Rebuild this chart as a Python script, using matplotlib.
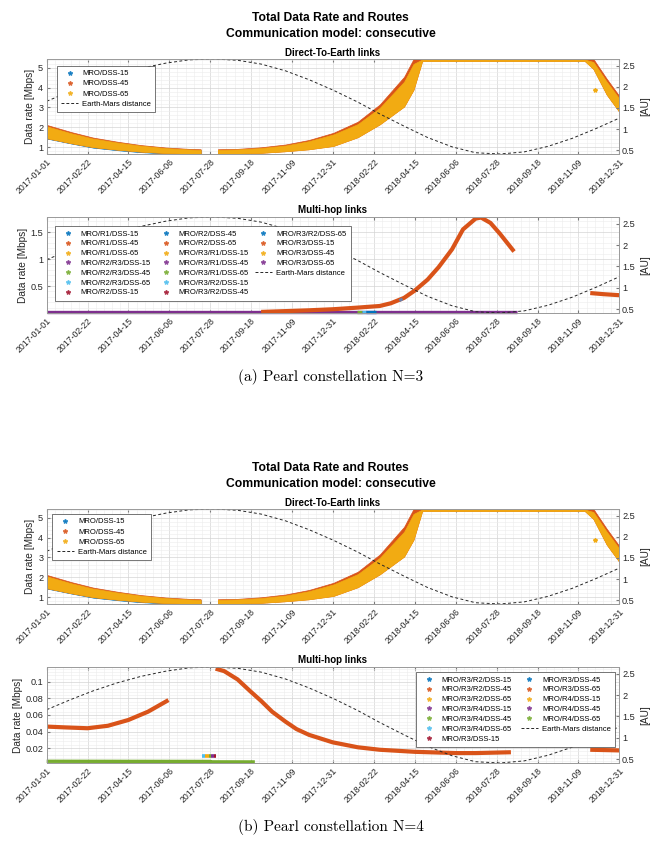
import numpy as np
import pandas as pd
import matplotlib
matplotlib.use('Agg')
import matplotlib.pyplot as plt
import matplotlib.dates as mdates
from matplotlib.lines import Line2D
from matplotlib.ticker import FuncFormatter, MultipleLocator

plt.rcParams.update({
    'font.family': 'Liberation Sans',
    'font.size': 6.3,
    'axes.edgecolor': '#9a9a9a',
    'axes.linewidth': 0.6,
    'xtick.color': '#7a7a7a',
    'ytick.color': '#7a7a7a',
    'xtick.labelcolor': '#262626',
    'ytick.labelcolor': '#262626',
    'xtick.labelsize': 6.3,
    'ytick.labelsize': 6.6,
    'axes.labelcolor': '#262626',
})

# MATLAB default colour order
C_BLUE, C_ORANGE, C_YELLOW = '#0072BD', '#D95319', '#F2AB12'
C_PURPLE, C_GREEN, C_CYAN, C_RED = '#7E2F8E', '#77AC30', '#4DBEEE', '#A2142F'
COLOR_ORDER = [C_BLUE, C_ORANGE, C_YELLOW, C_PURPLE, C_GREEN, C_CYAN, C_RED]

TICK_LABELS = ['2017-01-01', '2017-02-22', '2017-04-15', '2017-06-06', '2017-07-28',
               '2017-09-18', '2017-11-09', '2017-12-31', '2018-02-22', '2018-04-15',
               '2018-06-06', '2018-07-28', '2018-09-18', '2018-11-09', '2018-12-31']

# Earth-Mars distance [AU]
DIST_DATES = ['2017-01-01', '2017-02-01', '2017-03-01', '2017-04-01', '2017-05-01',
              '2017-06-01', '2017-07-01', '2017-08-01', '2017-09-01', '2017-10-01',
              '2017-11-01', '2017-12-01', '2018-01-01', '2018-02-01', '2018-03-01',
              '2018-04-01', '2018-05-01', '2018-06-01', '2018-07-01', '2018-08-01',
              '2018-09-01', '2018-10-01', '2018-11-01', '2018-12-01', '2018-12-31']
DIST_AU = [1.66, 1.90, 2.10, 2.29, 2.44, 2.56, 2.64, 2.66, 2.63, 2.54, 2.38, 2.17, 1.92,
           1.64, 1.36, 1.07, 0.80, 0.58, 0.44, 0.41, 0.46, 0.59, 0.78, 1.01, 1.26]

# Direct-to-Earth rate bands [Mbps], first pass before conjunction
DTE1_DATES = ['2017-01-01', '2017-02-01', '2017-03-01', '2017-04-01', '2017-05-01',
              '2017-06-01', '2017-07-01', '2017-07-16']
DTE1_DSS45_TOP = [2.12, 1.76, 1.48, 1.27, 1.10, 0.98, 0.91, 0.89]
DTE1_DSS65_TOP = [2.05, 1.70, 1.43, 1.23, 1.07, 0.95, 0.88, 0.86]
DTE1_DSS65_BOT = [1.45, 1.20, 1.00, 0.87, 0.77, 0.70, 0.66, 0.66]
DTE1_DSS15_BOT = [1.43, 1.18, 0.97, 0.84, 0.74, 0.68, 0.65, 0.65]

# second pass, after conjunction
DTE2_DATES = ['2017-08-07', '2017-09-01', '2017-10-01', '2017-11-01', '2017-12-01',
              '2018-01-01', '2018-02-01', '2018-03-01', '2018-04-01', '2018-04-13',
              '2018-04-24', '2018-11-17', '2018-11-28', '2018-12-15', '2018-12-31']
DTE2_DSS45_TOP = [0.89, 0.91, 0.99, 1.13, 1.36, 1.72, 2.28, 3.15, 4.55, 5.45,
                  5.45, 5.45, 5.45, 4.45, 3.58]
DTE2_DSS65_TOP = [0.86, 0.88, 0.95, 1.08, 1.30, 1.64, 2.16, 2.98, 4.30, 5.20,
                  5.42, 5.42, 5.30, 4.30, 3.45]
DTE2_DSS65_BOT = [0.66, 0.67, 0.71, 0.79, 0.89, 1.06, 1.50, 2.15, 3.05, 3.90,
                  5.35, 5.35, 4.95, 3.65, 2.78]
DTE_OUTLIER_DATE, DTE_OUTLIER_RATE = '2018-11-30', 3.9

# Multi-hop routes, N=3
MH3_LABELS = ['MRO/R1/DSS-15', 'MRO/R1/DSS-45', 'MRO/R1/DSS-65', 'MRO/R2/R3/DSS-15',
              'MRO/R2/R3/DSS-45', 'MRO/R2/R3/DSS-65', 'MRO/R2/DSS-15', 'MRO/R2/DSS-45',
              'MRO/R2/DSS-65', 'MRO/R3/R1/DSS-15', 'MRO/R3/R1/DSS-45', 'MRO/R3/R1/DSS-65',
              'MRO/R3/R2/DSS-15', 'MRO/R3/R2/DSS-45', 'MRO/R3/R2/DSS-65', 'MRO/R3/DSS-15',
              'MRO/R3/DSS-45', 'MRO/R3/DSS-65']
MH3_PURPLE_DATES = ['2017-01-01', '2018-08-23']
MH3_PURPLE_RATE = [0.012, 0.012]
MH3_GREEN_DATES = ['2018-01-31', '2018-02-07']
MH3_GREEN_RATE = [0.012, 0.012]
MH3_CYAN_DATES = ['2018-02-07', '2018-02-11']
MH3_CYAN_RATE = [0.012, 0.012]
MH3_BLUE_DATES = ['2018-02-11', '2018-02-24']
MH3_BLUE_RATE = [0.012, 0.012]
MH3_ORANGE_DATES = ['2017-10-01', '2017-11-01', '2017-12-01', '2018-01-01', '2018-02-01',
                    '2018-03-01', '2018-03-15', '2018-04-01', '2018-04-15', '2018-05-01',
                    '2018-05-15', '2018-06-01', '2018-06-15', '2018-07-01', '2018-07-08',
                    '2018-07-20', '2018-08-01', '2018-08-19']
MH3_ORANGE_RATE = [0.02, 0.035, 0.05, 0.07, 0.10, 0.13, 0.18, 0.28, 0.42, 0.62,
                   0.85, 1.18, 1.55, 1.75, 1.77, 1.67, 1.47, 1.14]
MH3_SPECK_DATES = ['2018-03-26', '2018-03-30']
MH3_SPECK_RATE = [0.23, 0.26]
MH3_TAIL_DATES = ['2018-11-24', '2018-12-10', '2018-12-31']
MH3_TAIL_RATE = [0.37, 0.35, 0.33]

# Multi-hop routes, N=4
MH4_LABELS = ['MRO/R3/R2/DSS-15', 'MRO/R3/R2/DSS-45', 'MRO/R3/R2/DSS-65', 'MRO/R3/R4/DSS-15',
              'MRO/R3/R4/DSS-45', 'MRO/R3/R4/DSS-65', 'MRO/R3/DSS-15', 'MRO/R3/DSS-45',
              'MRO/R3/DSS-65', 'MRO/R4/DSS-15', 'MRO/R4/DSS-45', 'MRO/R4/DSS-65']
MH4_SEG1_DATES = ['2017-01-01', '2017-01-25', '2017-02-22', '2017-03-20', '2017-04-15',
                  '2017-05-10', '2017-06-05']
MH4_SEG1_RATE = [0.046, 0.045, 0.044, 0.047, 0.054, 0.064, 0.078]
MH4_SEG2_DATES = ['2017-08-04', '2017-08-15', '2017-09-01', '2017-09-18', '2017-10-01',
                  '2017-10-15', '2017-11-01', '2017-11-15', '2017-12-01', '2017-12-31',
                  '2018-02-01', '2018-03-01', '2018-04-15', '2018-06-06', '2018-07-01',
                  '2018-08-15']
MH4_SEG2_RATE = [0.116, 0.113, 0.103, 0.088, 0.077, 0.064, 0.052, 0.043, 0.036, 0.027,
                 0.021, 0.018, 0.0155, 0.0140, 0.0140, 0.0150]
MH4_SEG3_DATES = ['2018-11-24', '2018-12-31']
MH4_SEG3_RATE = [0.0180, 0.0172]
MH4_GREEN_DATES = ['2017-01-01', '2017-07-28', '2017-07-28', '2017-09-23']
MH4_GREEN_RATE = [0.0041, 0.0039, 0.0034, 0.0033]
MH4_BAR_DATES = ['2017-07-18', '2017-07-22', '2017-07-26', '2017-07-29', '2017-08-02', '2017-08-05']
MH4_BAR_RATE = 0.0105
MH4_BAR_COLORS = [C_CYAN, C_YELLOW, C_GREEN, C_PURPLE, C_RED]

X0, X1 = pd.Timestamp('2017-01-01'), pd.Timestamp('2018-12-31')
W, H = 661, 851

fig = plt.figure(figsize=(W / 100, H / 100), dpi=100)


def rect(top_px, bottom_px):
    return [46.7 / W, 1 - bottom_px / H, 572.6 / W, (bottom_px - top_px) / H]


def gfmt(v, pos):
    return f'{v:g}'


def make_axes(top_px, bottom_px, ylim, yticks, yminor):
    ax = fig.add_axes(rect(top_px, bottom_px))
    ax.set_xlim(X0, X1)
    ax.set_ylim(*ylim)
    ticks = pd.to_datetime(TICK_LABELS)
    ax.set_xticks(ticks)
    ax.set_xticklabels(TICK_LABELS, rotation=45, ha='right', rotation_mode='anchor')
    major = mdates.date2num(ticks)
    minor = np.concatenate([np.linspace(a, b, 6)[1:-1] for a, b in zip(major[:-1], major[1:])])
    ax.set_xticks(minor, minor=True)
    ax.set_yticks(yticks)
    ax.yaxis.set_minor_locator(MultipleLocator(yminor))
    ax.yaxis.set_major_formatter(FuncFormatter(gfmt))
    ax.grid(which='major', color='#d4d4d4', lw=0.5)
    ax.grid(which='minor', color='#ececec', lw=0.4)
    ax.set_axisbelow(True)
    ax.tick_params(which='major', direction='in', length=2.5, top=True, right=False, pad=2.5)
    ax.tick_params(which='minor', length=0)
    ax.set_ylabel('Data rate [Mbps]', fontsize=7.3, labelpad=2)

    axr = ax.twinx()
    axr.set_ylim(0.41, 2.66)
    axr.set_yticks([0.5, 1, 1.5, 2, 2.5])
    axr.yaxis.set_major_formatter(FuncFormatter(gfmt))
    axr.tick_params(direction='in', length=2.5, pad=2)
    axr.set_ylabel('[AU]', fontsize=7.3, labelpad=4)
    axr.plot(pd.to_datetime(DIST_DATES), DIST_AU, color='#262626',
             ls=(0, (3, 2.5)), lw=0.7)
    return ax, axr


def star(color):
    return Line2D([], [], ls='none', marker='*', ms=3.2, color=color, alpha=0.75)


DIST_HANDLE = Line2D([], [], color='#262626', ls=(0, (3, 2)), lw=0.7)


def add_legend(axr, handles, labels, loc, anchor, ncol=1, colsp=1.2, rowsp=0.38):
    leg = axr.legend(handles, labels, loc=loc, bbox_to_anchor=anchor, ncol=ncol,
                     fontsize=5.5, frameon=True, fancybox=False, framealpha=1,
                     edgecolor='#404040', borderaxespad=0, handlelength=2.3,
                     handletextpad=0.5, labelspacing=rowsp, borderpad=0.55,
                     columnspacing=colsp)
    leg.get_frame().set_linewidth(0.5)
    return leg


def draw_dte(ax, axr, anchor):
    for dates, top45, top65, bot65 in [(DTE1_DATES, DTE1_DSS45_TOP, DTE1_DSS65_TOP, DTE1_DSS65_BOT),
                                       (DTE2_DATES, DTE2_DSS45_TOP, DTE2_DSS65_TOP, DTE2_DSS65_BOT)]:
        d = pd.to_datetime(dates)
        if dates is DTE1_DATES:
            ax.fill_between(d, DTE1_DSS15_BOT, top65, color=C_BLUE, lw=0.4)
        ax.fill_between(d, bot65, top45, color=C_ORANGE, lw=0.5)
        ax.fill_between(d, bot65, top65, color=C_YELLOW, lw=0.5)
    ax.plot(pd.Timestamp(DTE_OUTLIER_DATE), DTE_OUTLIER_RATE, marker='*', ms=3,
            color=C_YELLOW, ls='none')
    handles = [star(C_BLUE), star(C_ORANGE), star(C_YELLOW), DIST_HANDLE]
    labels = ['MRO/DSS-15', 'MRO/DSS-45', 'MRO/DSS-65', 'Earth-Mars distance']
    add_legend(axr, handles, labels, 'upper left', anchor)


def band(ax, dates, rate, color, lw=3.0, clip=True):
    ax.plot(pd.to_datetime(dates), rate, color=color, lw=lw, solid_capstyle='butt',
            clip_on=clip)


def titles(y0):
    fig.text(0.5, 1 - y0 / H, 'Total Data Rate and Routes', ha='center', va='center',
             fontsize=8.7, fontweight='bold')
    fig.text(0.5, 1 - (y0 + 16) / H, 'Communication model: consecutive', ha='center',
             va='center', fontsize=8.7, fontweight='bold')
    fig.text(0.503, 1 - (y0 + 34.5) / H, 'Direct-To-Earth links', ha='center',
             va='center', fontsize=7, fontweight='bold')
    fig.text(0.503, 1 - (y0 + 192) / H, 'Multi-hop links', ha='center',
             va='center', fontsize=7, fontweight='bold')


# ---------------- (a) Pearl constellation N=3 ----------------
titles(18.3)
ax, axr = make_axes(59, 154, (0.65, 5.45), [1, 2, 3, 4, 5], 0.2)
draw_dte(ax, axr, (0.0175, 0.93))

ax, axr = make_axes(217, 313, (0, 1.78), [0.5, 1, 1.5], 0.1)
band(ax, MH3_PURPLE_DATES, MH3_PURPLE_RATE, C_PURPLE, lw=2.4, clip=False)
band(ax, MH3_GREEN_DATES, MH3_GREEN_RATE, C_GREEN, lw=2.4, clip=False)
band(ax, MH3_CYAN_DATES, MH3_CYAN_RATE, C_CYAN, lw=2.4, clip=False)
band(ax, MH3_BLUE_DATES, MH3_BLUE_RATE, C_BLUE, lw=2.4, clip=False)
band(ax, MH3_ORANGE_DATES, MH3_ORANGE_RATE, C_ORANGE)
band(ax, MH3_SPECK_DATES, MH3_SPECK_RATE, '#6b7fa8', lw=2.2)
band(ax, MH3_TAIL_DATES, MH3_TAIL_RATE, C_ORANGE)
handles = [star(COLOR_ORDER[i % 7]) for i in range(len(MH3_LABELS))]
handles += [DIST_HANDLE, Line2D([], [], ls='none')]
labels = MH3_LABELS + ['Earth-Mars distance', '']
add_legend(axr, handles, labels, 'upper left', (0.0145, 0.905), ncol=3,
           colsp=0.8, rowsp=0.32)

fig.text(0.5, 1 - 377 / H, '(a) Pearl constellation N=3', ha='center', va='center',
         family='cmr10', fontsize=11)

# ---------------- (b) Pearl constellation N=4 ----------------
titles(468.3)
ax, axr = make_axes(509, 604, (0.65, 5.45), [1, 2, 3, 4, 5], 0.2)
draw_dte(ax, axr, (0.01, 0.95))

ax, axr = make_axes(667, 763, (0.002, 0.118), [0.02, 0.04, 0.06, 0.08, 0.1], 0.004)
band(ax, MH4_GREEN_DATES, MH4_GREEN_RATE, C_GREEN, lw=2.4, clip=False)
bar_dates = pd.to_datetime(MH4_BAR_DATES)
for i, c in enumerate(MH4_BAR_COLORS):
    ax.plot(bar_dates[i:i + 2], [MH4_BAR_RATE] * 2, color=c, lw=2.6, solid_capstyle='butt')
band(ax, MH4_SEG1_DATES, MH4_SEG1_RATE, C_ORANGE)
band(ax, MH4_SEG2_DATES, MH4_SEG2_RATE, C_ORANGE)
band(ax, MH4_SEG3_DATES, MH4_SEG3_RATE, C_ORANGE)
handles = [star(COLOR_ORDER[i % 7]) for i in range(len(MH4_LABELS))] + [DIST_HANDLE]
labels = MH4_LABELS + ['Earth-Mars distance']
add_legend(axr, handles, labels, 'upper right', (0.9925, 0.948), ncol=2, rowsp=0.33)

fig.text(0.5, 1 - 827 / H, '(b) Pearl constellation N=4', ha='center', va='center',
         family='cmr10', fontsize=11)

fig.savefig('out.png', dpi=100)
